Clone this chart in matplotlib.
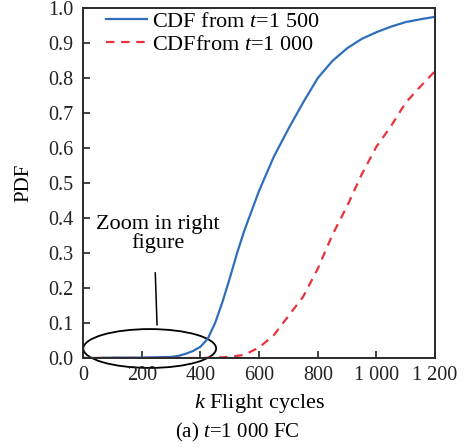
import matplotlib
matplotlib.use('Agg')
import matplotlib.pyplot as plt
from matplotlib.patches import Ellipse
from matplotlib.ticker import FuncFormatter

plt.rcParams['font.family'] = 'Liberation Serif'
plt.rcParams['mathtext.fontset'] = 'custom'
plt.rcParams['mathtext.rm'] = 'Liberation Serif'
plt.rcParams['mathtext.it'] = 'Liberation Serif:italic'

# CDF from t=1 500
blue_x = [0, 50, 100, 150, 200, 250, 300, 325, 350, 375, 400, 425, 450, 475,
          500, 525, 550, 600, 650, 700, 750, 800, 850, 900, 950, 1000, 1050,
          1100, 1150, 1200]
blue_y = [0, 0, 0.001, 0.001, 0.001, 0.002, 0.003, 0.006, 0.012, 0.02, 0.032,
          0.055, 0.10, 0.16, 0.228, 0.30, 0.365, 0.478, 0.575, 0.655, 0.73,
          0.80, 0.849, 0.885, 0.912, 0.931, 0.947, 0.96, 0.968, 0.975]

# CDF from t=1 000
red_x = [0, 100, 200, 300, 400, 450, 500, 550, 600, 650, 700, 750, 800, 850,
         900, 950, 1000, 1050, 1100, 1150, 1200]
red_y = [0, 0, 0, 0, 0, 0.001, 0.003, 0.009, 0.03, 0.065, 0.12, 0.175, 0.255,
         0.352, 0.434, 0.525, 0.604, 0.663, 0.73, 0.776, 0.82]

fig = plt.figure(figsize=(4.75, 4.48), dpi=100)
ax = fig.add_axes([0.175, 0.201, 0.741, 0.781])

ax.plot(blue_x, blue_y, color='#2f6ebd', lw=1.6,
        label='CDF from $t$=1 500')
ax.plot(red_x, red_y, color='#e8323c', lw=1.6, dashes=(3.8, 3.0),
        label='CDFfrom $t$=1 000')

ax.set_xlim(0, 1200)
ax.set_ylim(0, 1.0)
ax.set_xticks(range(0, 1201, 200))
ax.set_yticks([i / 10 for i in range(11)])
ax.xaxis.set_major_formatter(FuncFormatter(lambda v, p: f'{int(v):,}'.replace(',', ' ')))
ax.yaxis.set_major_formatter(FuncFormatter(lambda v, p: f'{v:.1f}'))
ax.tick_params(direction='in', length=5, width=1.2, labelsize=14.5,
               colors='#222222')
ax.tick_params(axis='x', pad=6)
ax.tick_params(axis='y', pad=7)
for s in ax.spines.values():
    s.set_linewidth(1.4)
    s.set_color('#2a2a2a')

ax.set_xlabel('$k$ Flight cycles', fontsize=16)
ax.set_ylabel('PDF', fontsize=15)
ax.xaxis.set_label_coords(0.5, -0.097)
ax.yaxis.set_label_coords(-0.14, 0.5)

ax.legend(loc='upper left', bbox_to_anchor=(0.066, 0.99), frameon=False,
          fontsize=16, handlelength=1.85, handletextpad=0.2,
          labelspacing=0.1, borderpad=0, borderaxespad=0)

# zoom marker
ax.add_patch(Ellipse((227, 0.027), 453, 0.111, fill=False, ec='black',
                     lw=1.3, clip_on=False))
ax.plot([246, 252], [0.243, 0.095], color='black', lw=1.1)
ax.text(255, 0.355, 'Zoom in right\nfigure', ha='center', va='center',
        fontsize=16, linespacing=0.95)

fig.text(0.5, 0.034, '(a) $t$=1 000 FC', ha='center', va='center', fontsize=15)

fig.savefig('out.png', dpi=100)
